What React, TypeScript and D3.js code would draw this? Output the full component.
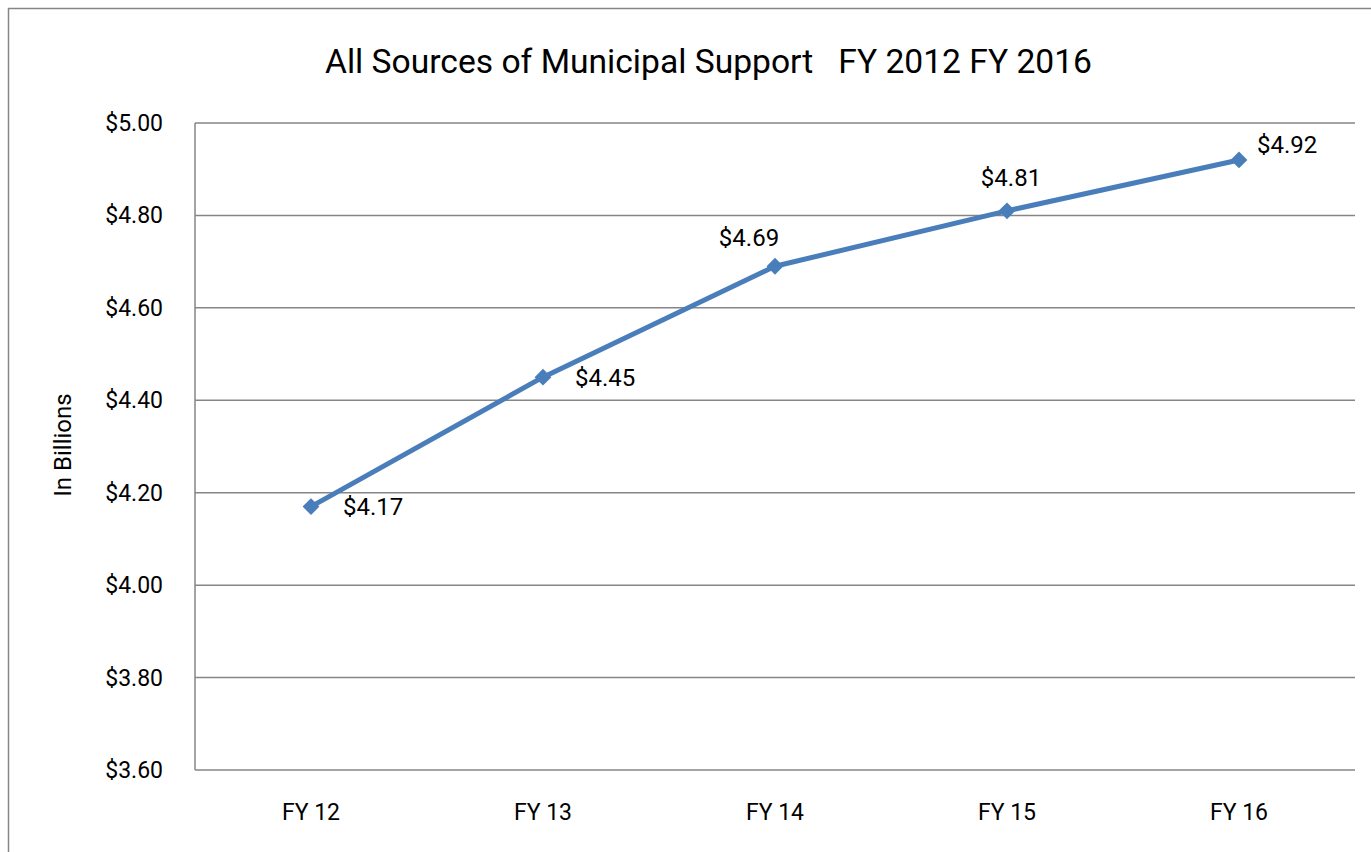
import React from "react";
import * as d3 from "d3";

const categories = ["FY 12", "FY 13", "FY 14", "FY 15", "FY 16"];
const values = [4.17, 4.45, 4.69, 4.81, 4.92];
const yTicks = [3.6, 3.8, 4.0, 4.2, 4.4, 4.6, 4.8, 5.0];
const title = "All Sources of Municipal Support   FY 2012 FY 2016";
const yAxisTitle = "In Billions";

const W = 1371;
const H = 852;
const FONT = "'Roboto', 'Liberation Sans', sans-serif";

// label placement offsets (style, not data)
const labelOffsets: { dx: number; dy: number; anchor: string }[] = [
  { dx: 32, dy: 0, anchor: "start" },
  { dx: 32, dy: 0, anchor: "start" },
  { dx: -26, dy: -29, anchor: "middle" },
  { dx: 4, dy: -33, anchor: "middle" },
  { dx: 18, dy: -15, anchor: "start" },
];

export default function App() {
  const left = 195, right = 1355, top = 123, bottom = 770;
  const x = d3.scaleBand<string>().domain(categories).range([left, right]);
  const y = d3.scaleLinear().domain([3.6, 5.0]).range([bottom, top]);
  const fmt = (v: number) => "$" + v.toFixed(2);
  const line = d3
    .line<number>()
    .x((_, i) => (x(categories[i]) as number) + x.bandwidth() / 2)
    .y((d) => y(d));
  const diamond = d3.symbol().type(d3.symbolDiamond2).size(180);

  return (
    <svg
      width={W}
      height={H}
      style={{ position: "absolute", left: 0, top: 0, display: "block", background: "#fff" }}
      fontFamily={FONT}
    >
      <rect x={8.5} y={8.5} width={1500} height={1000} fill="#fff" stroke="#868686" strokeWidth={1.5} />
      <text
        x={325}
        y={73}
        textAnchor="start"
        fontSize={33}
        fill="#000"
        textLength={767}
        lengthAdjust="spacingAndGlyphs"
        style={{ whiteSpace: "pre" }}
        xmlSpace="preserve"
      >
        {title}
      </text>
      {yTicks.map((t) => (
        <g key={t}>
          {t !== 3.6 && (
            <line x1={left} x2={right} y1={y(t)} y2={y(t)} stroke="#868686" strokeWidth={1.5} />
          )}
          <text
            x={163}
            y={y(t)}
            dy="0.35em"
            textAnchor="end"
            fontSize={23}
            fill="#000"
          >
            {fmt(t)}
          </text>
        </g>
      ))}
      <line x1={left} x2={left} y1={top} y2={bottom} stroke="#868686" strokeWidth={1.5} />
      <line x1={left} x2={right} y1={bottom} y2={bottom} stroke="#868686" strokeWidth={1.5} />
      {categories.map((c) => (
        <text
          key={c}
          x={(x(c) as number) + x.bandwidth() / 2}
          y={812}
          dy="0.35em"
          textAnchor="middle"
          fontSize={23}
          fill="#000"
        >
          {c}
        </text>
      ))}
      <text
        transform={`translate(63,445) rotate(-90)`}
        textAnchor="middle"
        dy="0.35em"
        fontSize={24}
        fill="#000"
      >
        {yAxisTitle}
      </text>
      <path d={line(values) || ""} fill="none" stroke="#4a7ebb" strokeWidth={5} strokeLinejoin="round" />
      {values.map((v, i) => {
        const cx = (x(categories[i]) as number) + x.bandwidth() / 2;
        const cy = y(v);
        const o = labelOffsets[i];
        return (
          <g key={i}>
            <path d={diamond() || ""} transform={`translate(${cx},${cy})`} fill="#4a7ebb" />
            <text
              x={cx + o.dx}
              y={cy + o.dy}
              dy="0.35em"
              textAnchor={o.anchor}
              fontSize={24}
              fill="#000"
            >
              {fmt(v)}
            </text>
          </g>
        );
      })}
    </svg>
  );
}
